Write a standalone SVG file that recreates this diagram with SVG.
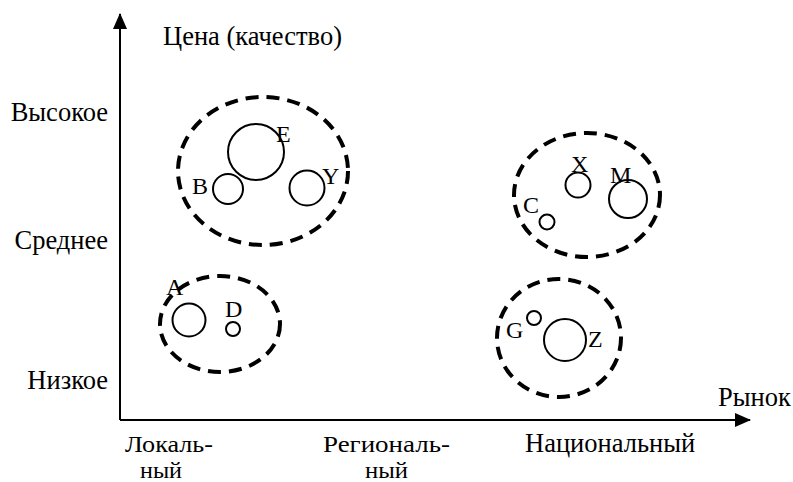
<svg xmlns="http://www.w3.org/2000/svg" width="793" height="482" viewBox="0 0 793 482">
<style>
text{font-family:"Liberation Serif","Times New Roman",serif;font-size:26.5px;fill:#000}
text.lt{font-size:24px}
text.two{font-size:23.5px}
.grp{fill:none;stroke:#000;stroke-width:4;stroke-dasharray:13 8}
.c{fill:#fff;stroke:#000;stroke-width:2}
.ax{stroke:#000;stroke-width:2;fill:none}
</style>
<defs>
<marker id="arr" markerWidth="16" markerHeight="14" refX="15" refY="7" orient="auto" markerUnits="userSpaceOnUse">
<path d="M0,0 L16,7 L0,14 Z" fill="#000"/>
</marker>
</defs>
<g id="axes">
<line class="ax" x1="120" y1="420" x2="120" y2="14" marker-end="url(#arr)"/>
<line class="ax" x1="120" y1="420" x2="750" y2="420" marker-end="url(#arr)"/>
</g>
<g id="labels">
<text x="163" y="45">Цена (качество)</text>
<text x="108" y="121" text-anchor="end">Высокое</text>
<text x="108" y="249" text-anchor="end">Среднее</text>
<text x="108" y="389" text-anchor="end">Низкое</text>
<text x="718" y="406">Рынок</text>
<text class="two" x="125" y="452" textLength="88" lengthAdjust="spacingAndGlyphs">Локаль-</text>
<text class="two" x="140" y="478" textLength="42" lengthAdjust="spacingAndGlyphs">ный</text>
<text class="two" x="323" y="452" textLength="127" lengthAdjust="spacingAndGlyphs">Региональ-</text>
<text class="two" x="365" y="478" textLength="43" lengthAdjust="spacingAndGlyphs">ный</text>
<text x="525" y="452">Национальный</text>
</g>
<g id="group-top-left">
<ellipse class="grp" cx="263" cy="171" rx="85" ry="74"/>
<g id="E"><circle class="c" cx="256" cy="152" r="28"/><text class="lt" x="276" y="142">E</text></g>
<g id="B"><circle class="c" cx="228" cy="189" r="15"/><text class="lt" x="192" y="194">B</text></g>
<g id="Y"><circle class="c" cx="307" cy="188" r="17.5"/><text class="lt" x="322" y="184">Y</text></g>
</g>
<g id="group-top-right">
<ellipse class="grp" cx="587" cy="195" rx="73" ry="62"/>
<g id="X"><circle class="c" cx="578" cy="185" r="12.5"/><text class="lt" x="571" y="172">X</text></g>
<g id="M"><circle class="c" cx="628" cy="199" r="19"/><text class="lt" x="610" y="183">M</text></g>
<g id="C"><circle class="c" cx="547" cy="222" r="7.5"/><text class="lt" x="523" y="213">C</text></g>
</g>
<g id="group-bottom-left">
<ellipse class="grp" cx="220" cy="324" rx="60" ry="48"/>
<g id="A"><circle class="c" cx="189" cy="320" r="16.5"/><text class="lt" x="166" y="295">A</text></g>
<g id="D"><circle class="c" cx="233" cy="329" r="7"/><text class="lt" x="225" y="317">D</text></g>
</g>
<g id="group-bottom-right">
<ellipse class="grp" cx="559" cy="338" rx="62" ry="59"/>
<g id="G"><circle class="c" cx="534" cy="318" r="7"/><text class="lt" x="506" y="338">G</text></g>
<g id="Z"><circle class="c" cx="565" cy="340" r="21"/><text class="lt" x="588" y="347">Z</text></g>
</g>
</svg>
